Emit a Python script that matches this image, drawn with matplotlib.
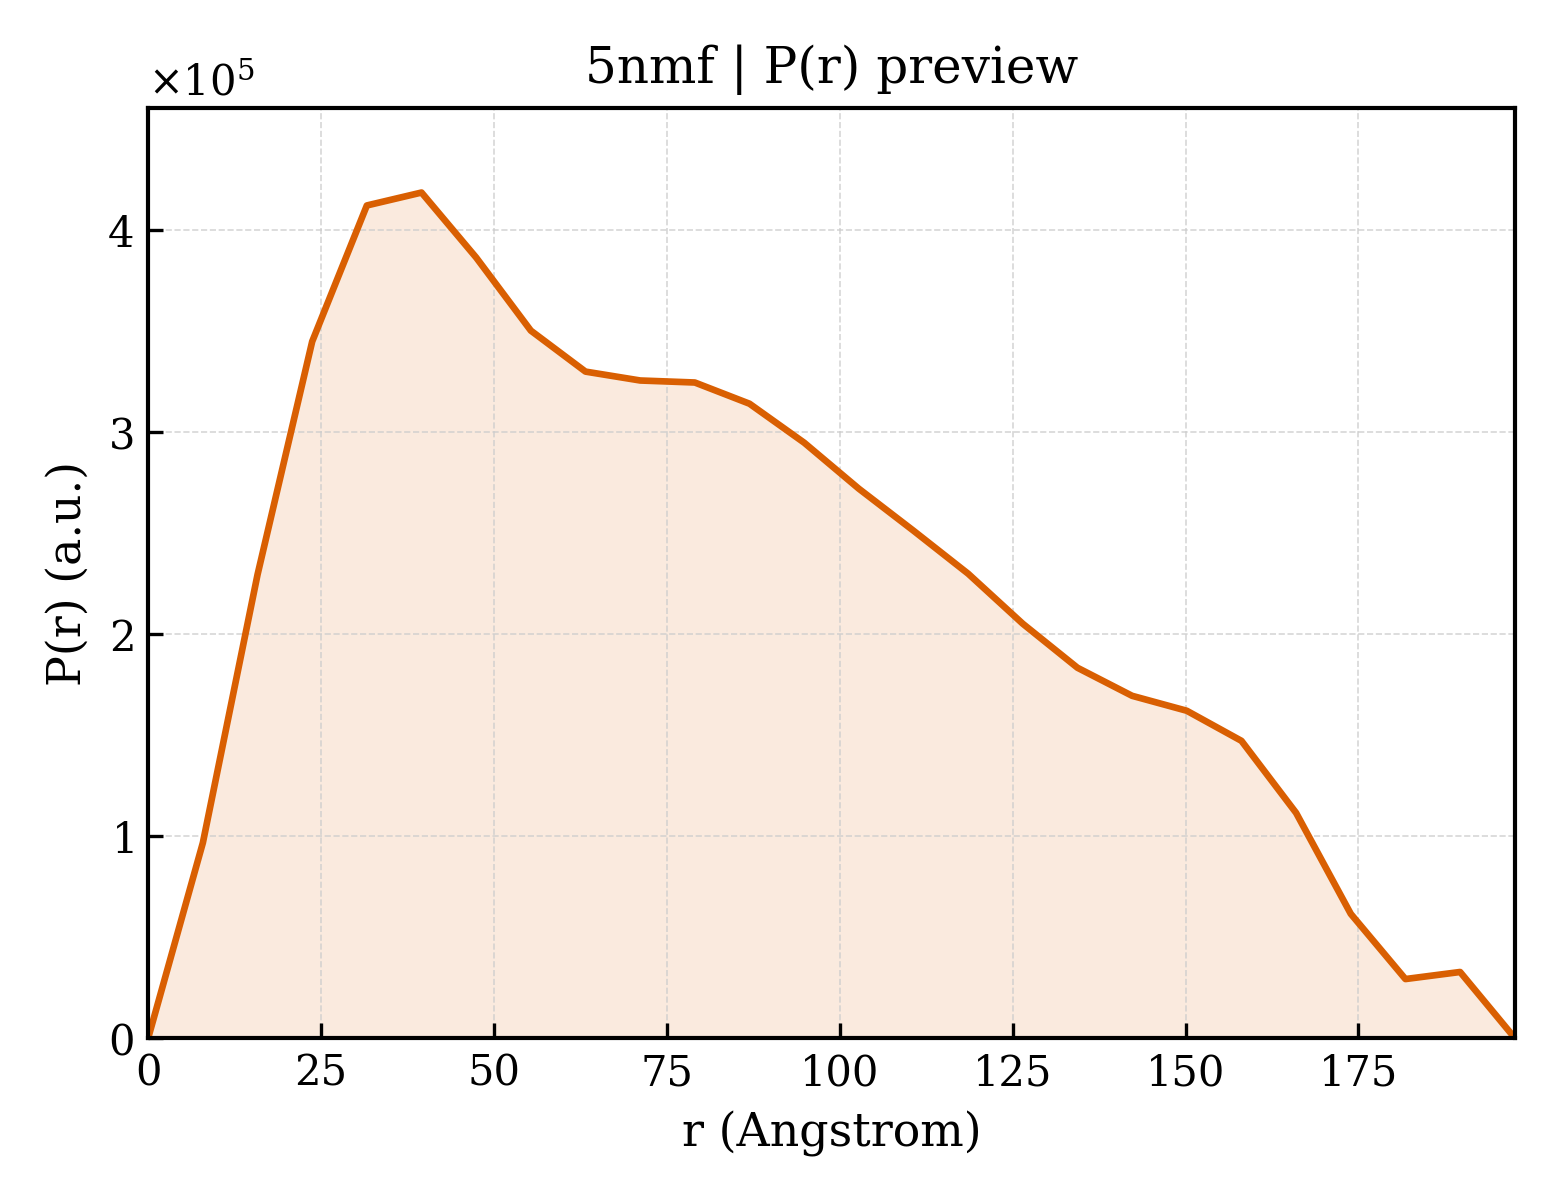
import numpy as np
import matplotlib
matplotlib.use("Agg")
import matplotlib.pyplot as plt

# P(r) samples read from the preview
r_max = 197.6
n_pts = 26
pr_vals = [0.0, 0.967, 2.295, 3.45, 4.124, 4.188, 3.866, 3.504, 3.301, 3.257,
           3.247, 3.142, 2.949, 2.721, 2.513, 2.30, 2.052, 1.834, 1.695, 1.621,
           1.472, 1.115, 0.615, 0.292, 0.327, 0.0]
title = "5nmf | P(r) preview"
line_color = "#d95f02"

r = np.linspace(0, r_max, n_pts)
pr = np.array(pr_vals) * 1e5

plt.rcParams['font.family'] = 'DejaVu Serif'
plt.rcParams['mathtext.fontset'] = 'dejavuserif'

fig, ax = plt.subplots(figsize=(5.2, 4), dpi=300)
ax.plot(r, pr, '-', color=line_color, lw=1.6)
ax.fill_between(r, pr, 0, color=line_color, alpha=0.13, lw=0)
ax.set_xlim(0, r_max)
ax.set_ylim(0, pr.max() * 1.1)
ax.set_title(title, fontsize=12)
ax.set_xlabel('r (Angstrom)', fontsize=11)
ax.set_ylabel('P(r) (a.u.)', fontsize=11)
ax.ticklabel_format(axis='y', style='sci', scilimits=(0, 0), useMathText=True)
ax.tick_params(direction='in', labelsize=10)
ax.yaxis.get_offset_text().set_fontsize(10)
ax.grid(True, ls='--', lw=0.4, color='#cccccc', alpha=0.8)
for s in ax.spines.values():
    s.set_linewidth(1.0)
fig.subplots_adjust(left=0.095, right=0.971, bottom=0.135, top=0.91)
fig.savefig('out.png', dpi=300)
